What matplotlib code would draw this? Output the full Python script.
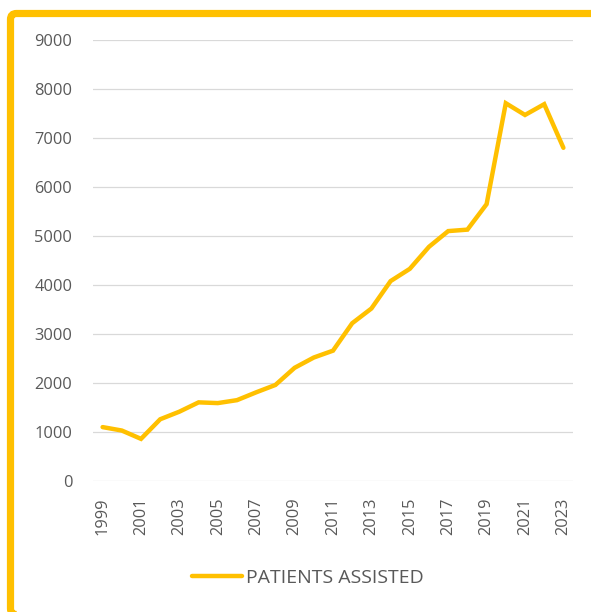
import matplotlib.pyplot as plt
import matplotlib.transforms as mtransforms
from matplotlib.patches import FancyBboxPatch

# Data
years = [str(y) for y in range(1999, 2024)]
patients = [1100, 1030, 860, 1260, 1415, 1605, 1590, 1650, 1810, 1960,
            2310, 2520, 2660, 3220, 3520, 4080, 4330, 4780, 5100, 5130,
            5650, 7710, 7470, 7690, 6800]
yticks = [0, 1000, 2000, 3000, 4000, 5000, 6000, 7000, 8000, 9000]

gold = '#FFC000'
grey = '#595959'
W, H = 591, 612

plt.rcParams['font.family'] = ['Open Sans', 'DejaVu Sans']

fig = plt.figure(figsize=(W / 100, H / 100), dpi=100)
ax = fig.add_axes([93 / W, 1 - 481 / H, 480 / W, 441 / H])

x = range(len(years))
ax.plot(x, patients, color=gold, linewidth=3.2, solid_joinstyle='miter',
        solid_capstyle='round', label='PATIENTS ASSISTED')

ax.set_xlim(-0.5, len(years) - 0.5)
ax.set_ylim(0, 9000)
ax.set_yticks(yticks)
ax.set_yticklabels([str(v) for v in yticks])
ax.set_xticks(list(x)[::2])
ax.set_xticklabels(years[::2], rotation=90)

ax.grid(axis='y', color='#D9D9D9', linewidth=0.9)
ax.set_axisbelow(True)
for s in ax.spines.values():
    s.set_visible(False)
ax.tick_params(axis='both', length=0, labelsize=11.8, labelcolor=grey)
ax.tick_params(axis='y', pad=15)
ax.tick_params(axis='x', pad=12)

fig.legend(loc='center', bbox_to_anchor=(308 / W, 1 - 578 / H), frameon=False,
           fontsize=14, labelcolor=grey, handlelength=2.6, handletextpad=0.2)

# yellow frame (partly cropped at right and bottom)
frame = FancyBboxPatch((10.5, -2.5), 620, H - 13.5 + 2.5,
                       boxstyle='round,pad=0,rounding_size=6',
                       transform=mtransforms.IdentityTransform(),
                       facecolor='none', edgecolor=gold, linewidth=5.2,
                       clip_on=False)
fig.add_artist(frame)

fig.savefig('out.png', dpi=100)
